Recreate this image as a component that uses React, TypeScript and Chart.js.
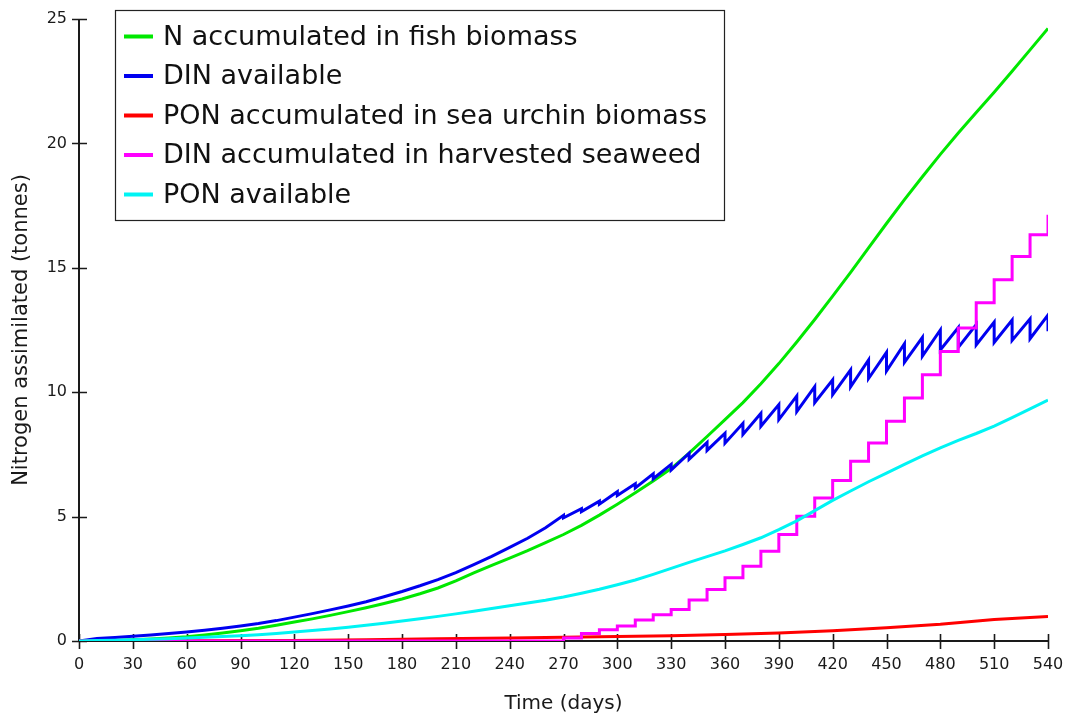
import { useEffect, useRef } from "react";
import { Chart, registerables } from "chart.js";

Chart.register(...registerables);

// Time axis (days) for the smoothly sampled series
const days = [
  0, 10, 20, 30, 40, 50, 60, 70, 80, 90, 100, 110, 120, 130, 140, 150, 160, 170, 180, 190,
  200, 210, 220, 230, 240, 250, 260, 270, 280, 290, 300, 310, 320, 330, 340, 350, 360, 370,
  380, 390, 400, 410, 420, 430, 440, 450, 460, 470, 480, 490, 500, 510, 520, 530, 540,
];

// N accumulated in fish biomass (tonnes)
const fishN = [
  0, 0.01, 0.02, 0.05, 0.08, 0.12, 0.17, 0.24, 0.32, 0.41, 0.51, 0.63, 0.76, 0.89, 1.03, 1.18,
  1.34, 1.51, 1.69, 1.9, 2.13, 2.42, 2.74, 3.04, 3.33, 3.63, 3.95, 4.28, 4.65, 5.06, 5.5, 5.96,
  6.43, 6.93, 7.55, 8.22, 8.9, 9.58, 10.34, 11.15, 12.02, 12.92, 13.86, 14.82, 15.8, 16.78,
  17.74, 18.66, 19.56, 20.42, 21.24, 22.06, 22.9, 23.76, 24.62,
];

// PON available (tonnes)
const ponAvailable = [
  0, 0.02, 0.03, 0.05, 0.07, 0.09, 0.12, 0.15, 0.18, 0.21, 0.25, 0.3, 0.36, 0.42, 0.48, 0.55,
  0.63, 0.71, 0.8, 0.89, 0.99, 1.09, 1.2, 1.31, 1.42, 1.53, 1.64, 1.77, 1.92, 2.08, 2.26, 2.45,
  2.68, 2.92, 3.16, 3.39, 3.62, 3.88, 4.15, 4.48, 4.83, 5.24, 5.65, 6.03, 6.4, 6.75, 7.1, 7.44,
  7.76, 8.06, 8.34, 8.64, 8.98, 9.33, 9.68,
];

// DIN available: smooth build-up before the harvest cycles start
const dinEarlyDays = [
  0, 10, 20, 30, 40, 50, 60, 70, 80, 90, 100, 110, 120, 130, 140, 150, 160, 170, 180, 190, 200,
  210, 220, 230, 240, 250, 260,
];
const dinEarly = [
  0, 0.1, 0.14, 0.19, 0.24, 0.3, 0.36, 0.43, 0.51, 0.6, 0.7, 0.82, 0.96, 1.1, 1.25, 1.41, 1.58,
  1.78, 1.99, 2.22, 2.47, 2.75, 3.07, 3.4, 3.76, 4.13, 4.55,
];

// DIN available around each 10-day seaweed harvest: just before and just after uptake
const harvestDays = [
  270, 280, 290, 300, 310, 320, 330, 340, 350, 360, 370, 380, 390, 400, 410, 420, 430, 440,
  450, 460, 470, 480, 490, 500, 510, 520, 530, 540,
];
const dinBeforeHarvest = [
  5.05, 5.32, 5.62, 6.0, 6.32, 6.72, 7.1, 7.55, 7.98, 8.35, 8.75, 9.15, 9.5, 9.85, 10.22, 10.5,
  10.9, 11.3, 11.6, 11.95, 12.2, 12.5, 12.6, 12.72, 12.82, 12.9, 12.95, 13.1,
];
const dinAfterHarvest = [
  4.95, 5.2, 5.5, 5.85, 6.15, 6.52, 6.87, 7.3, 7.66, 7.95, 8.3, 8.63, 8.9, 9.22, 9.58, 9.9,
  10.22, 10.55, 10.85, 11.2, 11.45, 11.7, 11.8, 11.9, 12.0, 12.08, 12.15, 12.45,
];

// DIN accumulated in harvested seaweed (cumulative, stepping at each harvest)
const seaweedDays = [
  0, 270, 280, 290, 300, 310, 320, 330, 340, 350, 360, 370, 380, 390, 400, 410, 420, 430, 440,
  450, 460, 470, 480, 490, 500, 510, 520, 530, 540,
];
const seaweedN = [
  0, 0.12, 0.3, 0.45, 0.6, 0.84, 1.06, 1.27, 1.65, 2.07, 2.54, 3.0, 3.61, 4.28, 5.01, 5.75,
  6.45, 7.22, 7.96, 8.83, 9.77, 10.7, 11.64, 12.58, 13.6, 14.52, 15.45, 16.33, 17.13,
];

// PON accumulated in sea urchin biomass
const urchinDays = [0, 60, 120, 160, 200, 240, 270, 300, 330, 360, 390, 420, 450, 480, 510, 540];
const urchinN = [0, 0.01, 0.02, 0.05, 0.09, 0.12, 0.15, 0.18, 0.21, 0.26, 0.32, 0.41, 0.53, 0.67, 0.86, 0.98];

const xTicks = [0, 30, 60, 90, 120, 150, 180, 210, 240, 270, 300, 330, 360, 390, 420, 450, 480, 510, 540];
const yTicks = [0, 5, 10, 15, 20, 25];

const seriesLabels = [
  "N accumulated in fish biomass",
  "DIN available",
  "PON accumulated in sea urchin biomass",
  "DIN accumulated in harvested seaweed",
  "PON available",
];
const seriesColors = ["#00e800", "#0000f0", "#ff0000", "#ff00ff", "#00f4f4"];

const FONT = '"DejaVu Sans", Verdana, sans-serif';
const INK = "#1a1a1a";

function pairs(xs: number[], ys: number[]) {
  return xs.map((x, i) => ({ x, y: ys[i] }));
}

function dinSeries() {
  const pts = pairs(dinEarlyDays, dinEarly);
  harvestDays.forEach((d, i) => {
    pts.push({ x: d, y: dinBeforeHarvest[i] });
    pts.push({ x: d, y: dinAfterHarvest[i] });
  });
  return pts;
}

// Axis lines with ticks that cross the axis, drawn beneath the data
const axesPlugin = {
  id: "crossAxes",
  beforeDatasetsDraw(chart: any) {
    const { ctx, chartArea, scales } = chart;
    const { left, right, top, bottom } = chartArea;
    ctx.save();
    ctx.strokeStyle = INK;
    ctx.lineWidth = 2;
    ctx.beginPath();
    ctx.moveTo(left, top);
    ctx.lineTo(left, bottom);
    ctx.lineTo(right, bottom);
    ctx.stroke();
    ctx.lineWidth = 1.6;
    ctx.beginPath();
    xTicks.forEach((v) => {
      const px = Math.round(scales.x.getPixelForValue(v)) + 0.5;
      ctx.moveTo(px, bottom - 7);
      ctx.lineTo(px, bottom + 8);
    });
    yTicks.forEach((v) => {
      const py = Math.round(scales.y.getPixelForValue(v)) + 0.5;
      ctx.moveTo(left - 7, py);
      ctx.lineTo(left + 8, py);
    });
    ctx.stroke();
    ctx.restore();
  },
};

// Framed legend in the upper-left of the plot
const legendPlugin = {
  id: "boxLegend",
  afterDraw(chart: any) {
    const ctx = chart.ctx;
    ctx.save();
    ctx.fillStyle = "#ffffff";
    ctx.fillRect(115.5, 10.5, 609, 210);
    ctx.strokeStyle = "#222";
    ctx.lineWidth = 1.2;
    ctx.strokeRect(115.5, 10.5, 609, 210);
    ctx.font = `27px ${FONT}`;
    ctx.textBaseline = "middle";
    ctx.textAlign = "left";
    seriesLabels.forEach((label, i) => {
      const y = 36.5 + i * 39.5;
      ctx.strokeStyle = seriesColors[i];
      ctx.lineWidth = 4;
      ctx.beginPath();
      ctx.moveTo(124, y);
      ctx.lineTo(153, y);
      ctx.stroke();
      ctx.fillStyle = "#111";
      ctx.fillText(label, 163, y + 1);
    });
    ctx.restore();
  },
};

export default function App() {
  const canvasRef = useRef<HTMLCanvasElement | null>(null);

  useEffect(() => {
    const canvas = canvasRef.current;
    if (!canvas) return;
    const line = (i: number, data: any[], order: number, extra: any = {}) => ({
      label: seriesLabels[i],
      data,
      borderColor: seriesColors[i],
      backgroundColor: seriesColors[i],
      borderWidth: 3,
      pointRadius: 0,
      tension: 0,
      fill: false,
      order,
      ...extra,
    });
    const chart = new Chart(canvas, {
      type: "line",
      data: {
        datasets: [
          line(0, pairs(days, fishN), 5),
          line(1, dinSeries(), 4),
          line(2, pairs(urchinDays, urchinN), 3),
          line(3, pairs(seaweedDays, seaweedN), 2, { stepped: "before" }),
          line(4, pairs(days, ponAvailable), 1),
        ],
      },
      options: {
        animation: false,
        responsive: false,
        maintainAspectRatio: false,
        parsing: false,
        normalized: true,
        layout: { padding: { left: 0, right: 19, top: 19, bottom: 0 } },
        plugins: { legend: { display: false }, tooltip: { enabled: false } },
        scales: {
          x: {
            type: "linear",
            min: 0,
            max: 540,
            afterBuildTicks: (s: any) => {
              s.ticks = xTicks.map((value) => ({ value }));
            },
            afterFit: (s: any) => {
              s.height = 76;
              s.paddingLeft = 0;
              s.paddingRight = 0;
            },
            grid: { display: false, drawTicks: false },
            border: { display: false },
            ticks: { font: { family: FONT, size: 16 }, color: INK, padding: 14, maxRotation: 0, autoSkip: false },
            title: {
              display: true,
              text: "Time (days)",
              font: { family: FONT, size: 20 },
              color: INK,
              padding: { top: 0, bottom: 1 },
            },
          },
          y: {
            type: "linear",
            min: 0,
            max: 25,
            afterBuildTicks: (s: any) => {
              s.ticks = yTicks.map((value) => ({ value }));
            },
            afterFit: (s: any) => {
              s.width = 79;
              s.paddingTop = 0;
              s.paddingBottom = 0;
            },
            grid: { display: false, drawTicks: false },
            border: { display: false },
            ticks: { font: { family: FONT, size: 16 }, color: INK, padding: 12 },
            title: {
              display: true,
              text: "Nitrogen assimilated (tonnes)",
              font: { family: FONT, size: 21 },
              color: INK,
              padding: { top: 9, bottom: 0 },
            },
          },
        },
      },
      plugins: [axesPlugin, legendPlugin],
    });
    return () => chart.destroy();
  }, []);

  return (
    <div style={{ position: "fixed", left: 0, top: 0, width: 1067, height: 717, background: "#fff" }}>
      <canvas ref={canvasRef} width={1067} height={717} style={{ width: 1067, height: 717, display: "block" }} />
    </div>
  );
}
